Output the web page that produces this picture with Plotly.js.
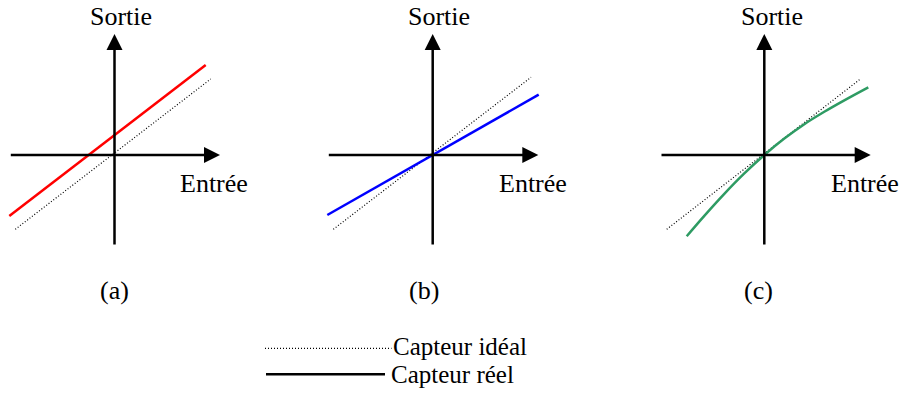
<!DOCTYPE html>
<html>
<head>
<meta charset="utf-8">
<script src="https://cdn.plot.ly/plotly-3.0.1.min.js"></script>
<style>html,body{margin:0;padding:0;background:#fff;}#chart{width:902px;height:397px;}</style>
</head>
<body>
<div id="chart"></div>
<script>
// ---- data (units: panel coordinates, origin at axis crossing) ----
const panelNames = ['(a)', '(b)', '(c)'];
const xTitle = 'Entrée';
const yTitle = 'Sortie';
const legendLabels = ['Capteur idéal', 'Capteur réel'];

const idealA_x = [-0.992, 0.962];
const idealA_y = [-0.743, 0.760];
const realA_x = [-1.052, 0.912];
const realA_y = [-0.610, 0.900];

const idealB_x = [-0.994, 0.983];
const idealB_y = [-0.743, 0.777];
const realB_x = [-1.054, 1.060];
const realB_y = [-0.600, 0.603];

const idealC_x = [-0.976, 0.957];
const idealC_y = [-0.743, 0.757];
const realC_x = [-0.776, -0.6, -0.4, -0.2, 0.0, 0.2, 0.4, 0.6, 0.8, 1.04];
const realC_y = [-0.812, -0.608, -0.388, -0.184, 0.0, 0.164, 0.308, 0.432, 0.546, 0.676];

const axisXTail = [-1.052, -1.054, -1.043];
const axisXTip = [1.055, 1.056, 1.064];
const axisYTail = [-0.91, -0.91, -0.91];
const axisYTip = [1.21, 1.21, 1.21];

// ---- layout helpers ----
const W = 902, H = 397, PX = 100;
const origins = [[114.5, 155], [432.7, 155], [764.3, 155]];
const boxes = [[0, 260], [300, 600], [620, 902]];
const yBox = [0, 270];
const FONT = '"Liberation Serif", "Times New Roman", serif';

const layout = {
  width: W, height: H,
  margin: {l: 0, r: 0, t: 0, b: 0},
  paper_bgcolor: '#fff', plot_bgcolor: 'rgba(0,0,0,0)',
  showlegend: false,
  font: {family: FONT, size: 26, color: '#000'},
  annotations: [], shapes: []
};

const traces = [];
const ideals = [[idealA_x, idealA_y], [idealB_x, idealB_y], [idealC_x, idealC_y]];
const reals = [[realA_x, realA_y], [realB_x, realB_y], [realC_x, realC_y]];
const realColors = ['#ff0000', '#0000ff', '#2e9b63'];

for (let i = 0; i < 3; i++) {
  const sfx = i === 0 ? '' : String(i + 1);
  const [ox, oy] = origins[i];
  const [x0, x1] = boxes[i];
  layout['xaxis' + sfx] = {
    domain: [x0 / W, x1 / W], range: [(x0 - ox) / PX, (x1 - ox) / PX],
    visible: false, fixedrange: true, anchor: 'y' + sfx
  };
  layout['yaxis' + sfx] = {
    domain: [1 - yBox[1] / H, 1 - yBox[0] / H], range: [(oy - yBox[1]) / PX, (oy - yBox[0]) / PX],
    visible: false, fixedrange: true, anchor: 'x' + sfx
  };
  const xr = 'x' + sfx, yr = 'y' + sfx;
  traces.push({
    x: ideals[i][0], y: ideals[i][1], xaxis: xr, yaxis: yr, mode: 'lines',
    line: {color: '#000', width: 1.2, dash: '1px,2px'}, hoverinfo: 'skip'
  });
  traces.push({
    x: reals[i][0], y: reals[i][1], xaxis: xr, yaxis: yr, mode: 'lines',
    line: {color: realColors[i], width: 2.5, shape: i === 2 ? 'spline' : 'linear', smoothing: 1},
    hoverinfo: 'skip'
  });
  // axes arrows
  layout.annotations.push({
    xref: xr, yref: yr, axref: xr, ayref: yr,
    x: axisXTip[i], y: 0, ax: axisXTail[i], ay: 0, text: '',
    showarrow: true, arrowhead: 2, arrowsize: 1.28, arrowwidth: 2.5, arrowcolor: '#000'
  });
  layout.annotations.push({
    xref: xr, yref: yr, axref: xr, ayref: yr,
    x: 0, y: axisYTip[i], ax: 0, ay: axisYTail[i], text: '',
    showarrow: true, arrowhead: 2, arrowsize: 1.28, arrowwidth: 2.5, arrowcolor: '#000'
  });
}

// axis titles (positions in panel units)
const sortiePos = [[0.063, 1.39], [0.06, 1.39], [0.074, 1.39]];
const entreePos = [[0.995, -0.28], [0.998, -0.28], [1.007, -0.28]];
for (let i = 0; i < 3; i++) {
  const sfx = i === 0 ? '' : String(i + 1);
  layout.annotations.push({xref: 'x' + sfx, yref: 'y' + sfx, x: sortiePos[i][0], y: sortiePos[i][1],
    text: yTitle, showarrow: false, xanchor: 'center', yanchor: 'middle'});
  layout.annotations.push({xref: 'x' + sfx, yref: 'y' + sfx, x: entreePos[i][0], y: entreePos[i][1],
    text: xTitle, showarrow: false, xanchor: 'center', yanchor: 'middle'});
}

// panel labels
const labelX = [114.2, 424, 758.7];
for (let i = 0; i < 3; i++) {
  layout.annotations.push({xref: 'paper', yref: 'paper', x: labelX[i] / W, y: 1 - 290 / H,
    text: panelNames[i], showarrow: false, xanchor: 'center', yanchor: 'middle'});
}

// legend
layout.shapes.push({type: 'line', xref: 'paper', yref: 'paper',
  x0: 265 / W, x1: 391.5 / W, y0: 1 - 348.3 / H, y1: 1 - 348.3 / H,
  line: {color: '#000', width: 1.2, dash: '1px,2px'}});
layout.shapes.push({type: 'line', xref: 'paper', yref: 'paper',
  x0: 266 / W, x1: 385 / W, y0: 1 - 374.3 / H, y1: 1 - 374.3 / H,
  line: {color: '#000', width: 2.5}});
layout.annotations.push({xref: 'paper', yref: 'paper', x: 392 / W, y: 1 - 346 / H,
  text: legendLabels[0], showarrow: false, xanchor: 'left', yanchor: 'middle',
  borderpad: 0, font: {size: 25}});
layout.annotations.push({xref: 'paper', yref: 'paper', x: 389.5 / W, y: 1 - 374 / H,
  text: legendLabels[1], showarrow: false, xanchor: 'left', yanchor: 'middle',
  borderpad: 0, font: {size: 25}});

Plotly.newPlot('chart', traces, layout, {staticPlot: true, displayModeBar: false});
</script>
</body>
</html>
